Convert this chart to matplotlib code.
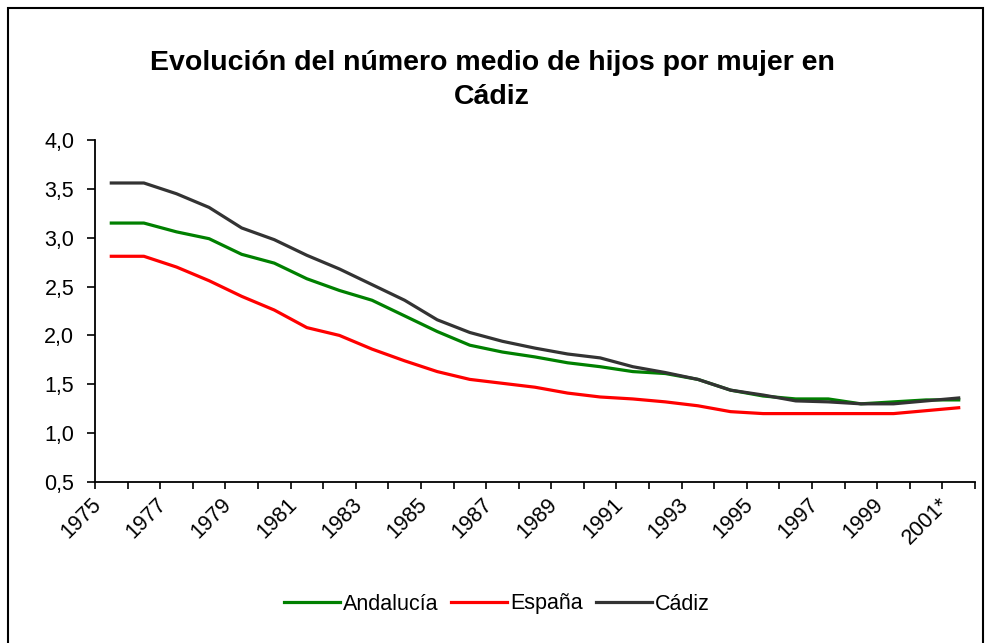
import numpy as np
import matplotlib
matplotlib.use("Agg")
import matplotlib.pyplot as plt
from matplotlib.patches import Rectangle

plt.rcParams['font.family'] = ['Liberation Sans', 'DejaVu Sans']

# datos
years = [str(y) for y in range(1975, 2001)] + ["2001*"]
andalucia = [3.15, 3.15, 3.06, 2.99, 2.83, 2.74, 2.58, 2.46, 2.36, 2.20, 2.04, 1.90, 1.83,
             1.78, 1.72, 1.68, 1.63, 1.61, 1.55, 1.44, 1.38, 1.35, 1.35, 1.30, 1.32, 1.34, 1.34]
espana = [2.81, 2.81, 2.70, 2.56, 2.40, 2.26, 2.08, 2.00, 1.86, 1.74, 1.63, 1.55, 1.51,
          1.47, 1.41, 1.37, 1.35, 1.32, 1.28, 1.22, 1.20, 1.20, 1.20, 1.20, 1.20, 1.23, 1.26]
cadiz = [3.56, 3.56, 3.45, 3.31, 3.10, 2.98, 2.82, 2.68, 2.52, 2.36, 2.16, 2.03, 1.94,
         1.87, 1.81, 1.77, 1.68, 1.62, 1.55, 1.44, 1.39, 1.33, 1.32, 1.30, 1.30, 1.33, 1.36]
yticks = [0.5, 1.0, 1.5, 2.0, 2.5, 3.0, 3.5, 4.0]

W, H = 991, 643
fig = plt.figure(figsize=(W / 100, H / 100), dpi=100)
ax = fig.add_axes([95 / W, 1 - 482 / H, (975 - 95) / W, (482 - 140) / H])

x = np.arange(len(years))
ax.plot(x, andalucia, color="#008000", lw=2.3, label="Andalucía")
ax.plot(x, espana, color="#ff0000", lw=2.3, label="España")
ax.plot(x, cadiz, color="#333333", lw=2.3, label="Cádiz")

ax.set_xlim(-0.5, len(years) - 0.5)
ax.set_ylim(0.5, 4.0)
ax.set_yticks(yticks)
ax.set_yticklabels([("%.1f" % v).replace(".", ",") for v in yticks])
ax.tick_params(axis="y", direction="out", length=6, width=1.2, pad=9, labelsize=15.5, colors="black")

# ticks en los limites de categoria, etiquetas cada dos anos
ax.set_xticks(np.arange(-0.5, len(years)))
ax.set_xticklabels([])
ax.tick_params(axis="x", which="major", direction="out", length=5, width=1.2)
ax.set_xticks(x[::2] - 0.4, minor=True)
ax.set_xticklabels(years[::2], minor=True, rotation=45, ha="right", va="center",
                   rotation_mode="anchor", fontsize=15.5)
ax.tick_params(axis="x", which="minor", length=0, pad=14)

for s in ["top", "right"]:
    ax.spines[s].set_visible(False)
for s in ["left", "bottom"]:
    ax.spines[s].set_linewidth(1.3)

fig.text(492 / W, 1 - 80 / H, "Evolución del número medio de hijos por mujer en\nCádiz",
         ha="center", va="center", fontsize=20.5, fontweight="bold", linespacing=1.45)

fig.legend(loc="center", bbox_to_anchor=(497 / W, 1 - 604 / H), ncol=3, frameon=False,
           fontsize=15.5, handlelength=2.6, handletextpad=0.15, columnspacing=0.6)

fig.patches.append(Rectangle((8 / W, -0.02), (983 - 8) / W, 1 - 8 / H + 0.02,
                             transform=fig.transFigure, fill=False, lw=1.5, ec="black"))

fig.savefig("out.png", dpi=100)
